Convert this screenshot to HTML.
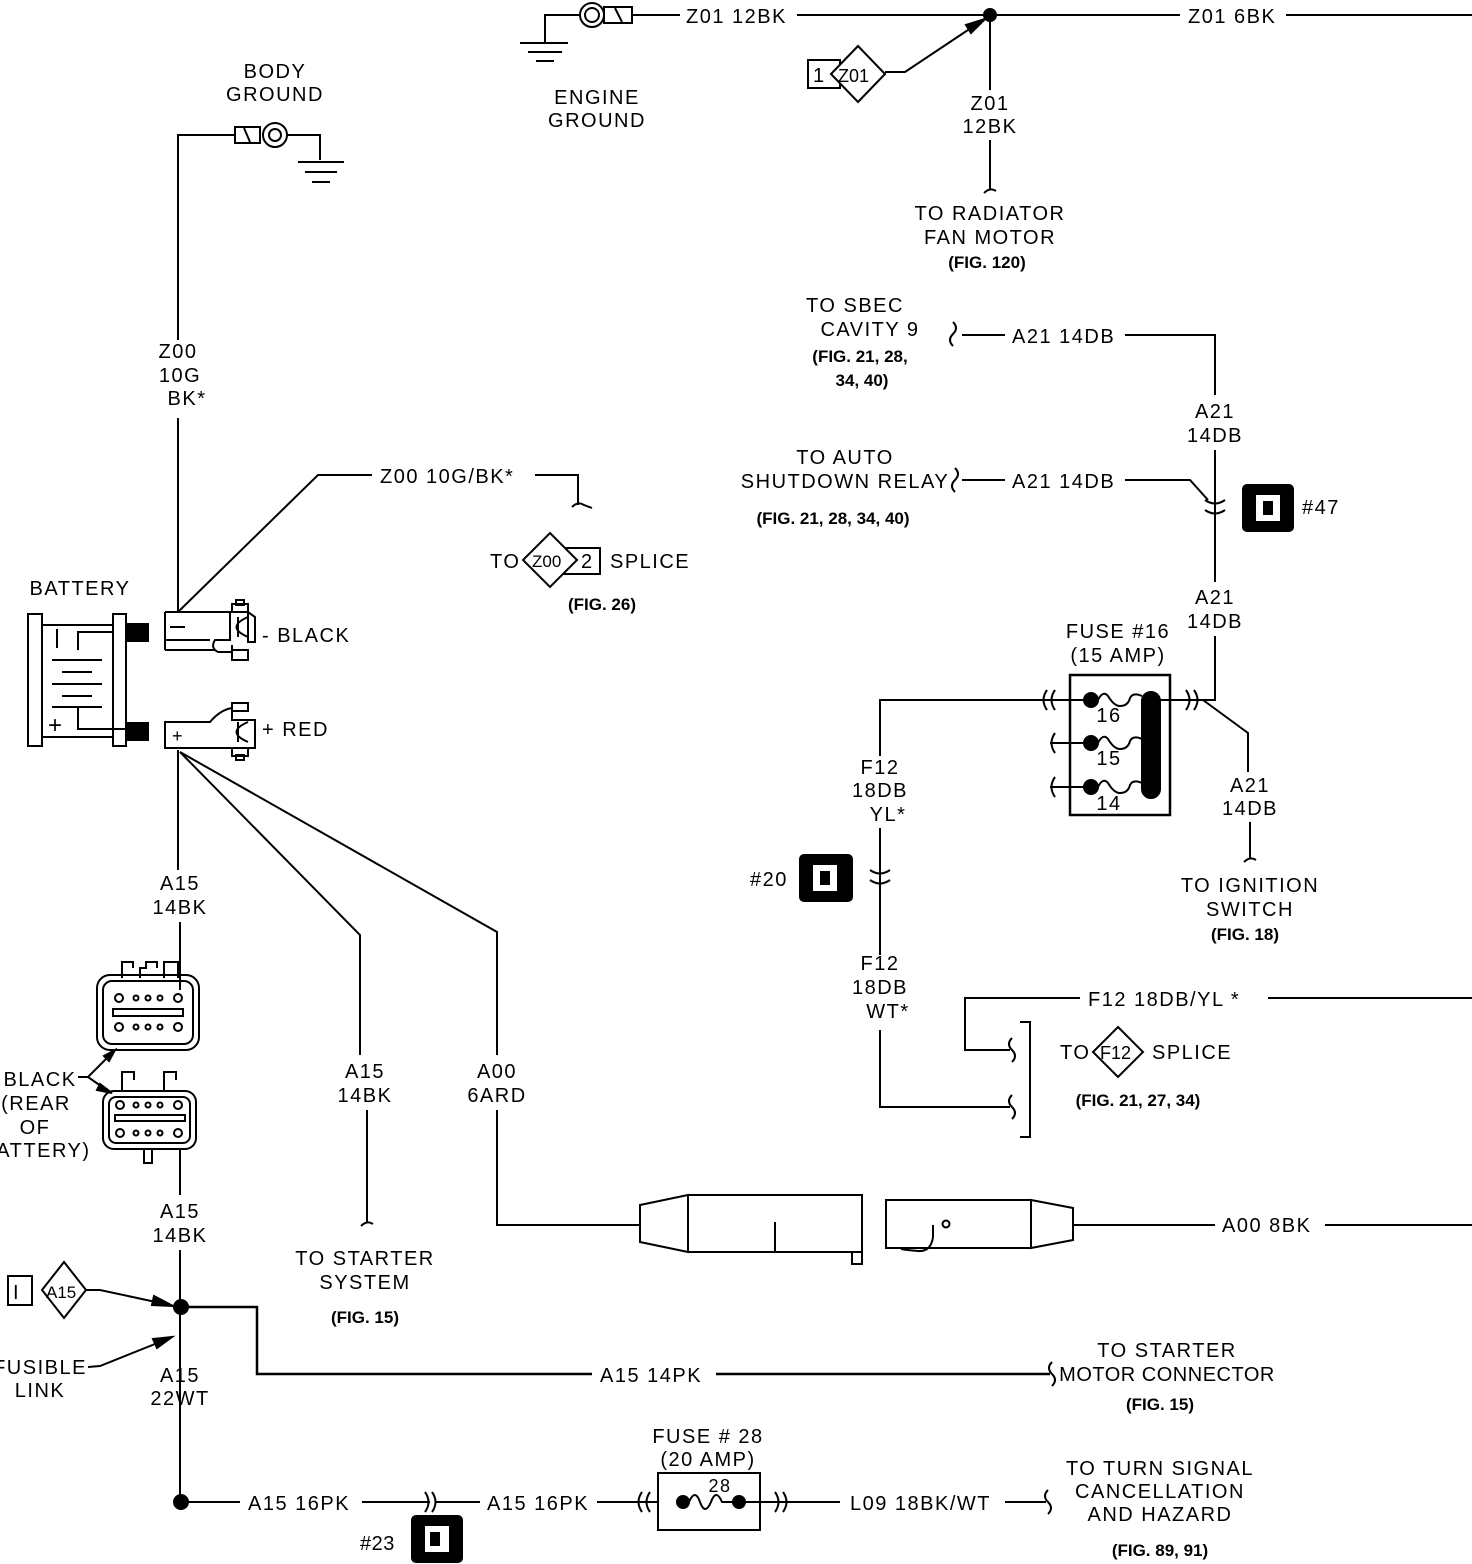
<!DOCTYPE html>
<html><head><meta charset="utf-8"><style>
html,body{margin:0;padding:0;background:#fff}
svg{display:block}
text{font-family:"Liberation Sans",sans-serif;font-size:20px;letter-spacing:1.5px;fill:#000}
.c{text-anchor:middle}
.b{font-weight:bold;font-size:17px;letter-spacing:0}
</style></head><body>
<svg width="1472" height="1564" viewBox="0 0 1472 1564" xmlns="http://www.w3.org/2000/svg" fill="none" stroke="#000" stroke-width="2">
<!-- ENGINE GROUND -->
<polyline points="580,15 545,15 545,42"/>
<line x1="520" y1="43" x2="568" y2="43"/><line x1="528" y1="52" x2="562" y2="52"/><line x1="536" y1="61" x2="554" y2="61"/>
<circle cx="592" cy="15" r="12"/><circle cx="592" cy="15" r="7"/>
<rect x="604" y="7" width="28" height="16"/><line x1="615" y1="8" x2="622" y2="22"/>
<line x1="632" y1="15" x2="680" y2="15"/>
<g stroke="none"><text x="686" y="23">Z01 12BK</text><text class="c" x="597" y="104">ENGINE</text><text class="c" x="597" y="127">GROUND</text></g>
<line x1="797" y1="15" x2="1180" y2="15"/>
<circle cx="990" cy="15" r="6" fill="#000"/>
<text x="1188" y="23" stroke="none">Z01 6BK</text>
<line x1="1286" y1="15" x2="1472" y2="15"/>
<rect x="808" y="60" width="32" height="28"/>
<polygon points="858,46 885,74 858,102 831,74" fill="#fff"/>
<g stroke="none"><text x="813" y="82">1</text><text x="838" y="82" style="letter-spacing:0;font-size:18px">Z01</text></g>
<polyline points="885,72 905,72 980,22"/>
<polygon points="985,19 966,25 971,33" fill="#000"/>
<line x1="990" y1="15" x2="990" y2="90"/>
<g stroke="none"><text class="c" x="990" y="110">Z01</text><text class="c" x="990" y="133">12BK</text></g>
<line x1="990" y1="140" x2="990" y2="190"/>
<path d="M984,193 q6,-6 12,-2"/>
<g stroke="none"><text class="c" x="990" y="220">TO RADIATOR</text><text class="c" x="990" y="244">FAN MOTOR</text><text class="c b" x="987" y="268">(FIG. 120)</text></g>

<!-- BODY GROUND -->
<g stroke="none"><text class="c" x="275" y="78">BODY</text><text class="c" x="275" y="101">GROUND</text></g>
<polyline points="178,340 178,135 235,135"/>
<rect x="235" y="127" width="25" height="16"/><line x1="244" y1="128" x2="250" y2="142"/>
<circle cx="275" cy="135" r="12"/><circle cx="275" cy="135" r="6"/>
<polyline points="287,135 320,135 320,160"/>
<line x1="298" y1="162" x2="344" y2="162"/><line x1="305" y1="172" x2="337" y2="172"/><line x1="312" y1="182" x2="330" y2="182"/>
<g stroke="none"><text class="c" x="178" y="358">Z00</text><text class="c" x="180" y="382">10G</text><text class="c" x="187" y="405">BK*</text></g>
<line x1="178" y1="418" x2="178" y2="612"/>
<polyline points="178,612 318,475 372,475"/>
<text x="380" y="483" stroke="none">Z00 10G/BK*</text>
<polyline points="535,475 578,475 578,505"/><path d="M572,507 q6,-6 12,-2 l8,3"/>
<g stroke="none"><text x="490" y="568">TO</text></g>
<rect x="560" y="548" width="40" height="26"/>
<polygon points="550,533 577,560 550,587 523,560" fill="#fff"/>
<g stroke="none"><text x="532" y="567" style="letter-spacing:0;font-size:17px">Z00</text><text x="581" y="568">2</text><text x="610" y="568">SPLICE</text><text class="c b" x="602" y="610">(FIG. 26)</text></g>

<!-- BATTERY -->
<text class="c" x="80" y="595" stroke="none">BATTERY</text>
<rect x="28" y="614" width="14" height="132"/><rect x="113" y="614" width="13" height="132"/>
<line x1="42" y1="625" x2="113" y2="625"/><line x1="42" y1="737" x2="113" y2="737"/>
<rect x="126" y="624" width="22" height="17" fill="#000"/><rect x="126" y="723" width="22" height="17" fill="#000"/>
<line x1="57" y1="629" x2="57" y2="648"/>
<polyline points="113,632 78,632 78,650"/>
<line x1="52" y1="660" x2="102" y2="660"/><line x1="62" y1="672" x2="92" y2="672"/>
<line x1="52" y1="684" x2="102" y2="684"/><line x1="62" y1="696" x2="92" y2="696"/><line x1="52" y1="707" x2="102" y2="707"/>
<polyline points="78,707 78,729 126,729"/>
<g stroke="none"><text x="48" y="733" style="font-size:24px">+</text></g>
<!-- neg terminal -->
<path d="M165,612 H230 V640 H215 Q210,648 218,652 H232 V660 H248 V650 H232 V645 M165,612 V640 H210"/>
<line x1="165" y1="640" x2="165" y2="650"/><line x1="165" y1="650" x2="215" y2="650"/>
<rect x="232" y="604" width="16" height="8"/><rect x="236" y="600" width="8" height="5"/>
<path d="M248,617 Q225,627 248,637 M238,617 V637 M248,612 V642 H255 V617 Z"/>
<line x1="170" y1="627" x2="185" y2="627"/>
<text x="262" y="642" stroke="none">- BLACK</text>
<!-- pos terminal -->
<path d="M165,722 H210 Q220,710 232,708 V720 H255 V748 H165 Z"/>
<rect x="232" y="703" width="16" height="8"/>
<rect x="232" y="748" width="16" height="8"/><rect x="236" y="755" width="8" height="5"/>
<path d="M248,722 Q225,732 248,742 M238,722 V742"/>
<text x="172" y="742" stroke="none" style="font-size:18px">+</text>
<text x="262" y="736" stroke="none">+ RED</text>

<!-- + branches -->
<line x1="178" y1="750" x2="178" y2="870"/>
<polyline points="180,752 360,935 360,1055"/>
<polyline points="180,752 497,932 497,1055"/>
<g stroke="none"><text class="c" x="365" y="1078">A15</text><text class="c" x="365" y="1102">14BK</text><text class="c" x="497" y="1078">A00</text><text class="c" x="497" y="1102">6ARD</text>
<text class="c" x="365" y="1265">TO STARTER</text><text class="c" x="365" y="1289">SYSTEM</text><text class="c b" x="365" y="1323">(FIG. 15)</text></g>
<line x1="367" y1="1110" x2="367" y2="1222"/><path d="M361,1226 q6,-6 12,-2"/>
<polyline points="497,1110 497,1225 640,1225"/>
<!-- in-line connector -->
<polygon points="640,1205 688,1195 688,1252 640,1242"/>
<rect x="688" y="1195" width="174" height="57"/>
<line x1="775" y1="1222" x2="775" y2="1252"/>
<rect x="852" y="1252" width="10" height="12"/>
<rect x="886" y="1200" width="145" height="48"/>
<polygon points="1031,1200 1073,1208 1073,1240 1031,1248"/>
<circle cx="946" cy="1224" r="3.5"/>
<path d="M933,1225 V1237 Q931,1252 918,1251 Q906,1250 901,1249"/>
<line x1="1073" y1="1225" x2="1215" y2="1225"/>
<text x="1222" y="1232" stroke="none">A00 8BK</text>
<line x1="1325" y1="1225" x2="1472" y2="1225"/>

<!-- A15 14BK left -->
<g stroke="none"><text class="c" x="180" y="890">A15</text><text class="c" x="180" y="914">14BK</text></g>
<line x1="180" y1="922" x2="180" y2="990"/>
<path d="M122,978 V962 H133 V968 M140,978 V968 H146 V962 H157 V968 M164,978 V962 H178 V978" />
<rect x="97" y="975" width="102" height="75" rx="13"/>
<rect x="103" y="981" width="90" height="63" rx="9"/>
<rect x="113" y="1009" width="70" height="7"/>
<g fill="#fff"><circle cx="119" cy="998" r="4"/><circle cx="136" cy="998" r="2.5"/><circle cx="148" cy="998" r="2.5"/><circle cx="160" cy="998" r="2.5"/><circle cx="178" cy="998" r="4"/>
<circle cx="119" cy="1027" r="4"/><circle cx="136" cy="1027" r="2.5"/><circle cx="148" cy="1027" r="2.5"/><circle cx="160" cy="1027" r="2.5"/><circle cx="178" cy="1027" r="4"/></g>
<path d="M122,1092 V1072 H134 V1080 M164,1092 V1072 H176 V1080"/>
<rect x="103" y="1091" width="93" height="58" rx="11"/>
<rect x="109" y="1097" width="81" height="46" rx="7"/>
<rect x="115" y="1115" width="70" height="6"/>
<rect x="144" y="1149" width="8" height="14"/>
<g fill="#fff"><circle cx="120" cy="1105" r="4"/><circle cx="136" cy="1105" r="2.5"/><circle cx="148" cy="1105" r="2.5"/><circle cx="160" cy="1105" r="2.5"/><circle cx="178" cy="1105" r="4"/>
<circle cx="120" cy="1133" r="4"/><circle cx="136" cy="1133" r="2.5"/><circle cx="148" cy="1133" r="2.5"/><circle cx="160" cy="1133" r="2.5"/><circle cx="178" cy="1133" r="4"/></g>
<polyline points="78,1077 88,1077 113,1052"/><polygon points="115,1050 104,1056 109,1061" fill="#000"/>
<line x1="88" y1="1077" x2="108" y2="1091"/><polygon points="112,1093 100,1084 97,1090" fill="#000"/>
<g stroke="none"><text class="c" x="40" y="1086">BLACK</text><text class="c" x="36" y="1110">(REAR</text><text class="c" x="35" y="1134">OF</text><text class="c" x="36" y="1157">BATTERY)</text></g>
<line x1="180" y1="1148" x2="180" y2="1195"/>
<g stroke="none"><text class="c" x="180" y="1218">A15</text><text class="c" x="180" y="1242">14BK</text></g>
<line x1="180" y1="1250" x2="180" y2="1500"/>
<circle cx="181" cy="1307" r="7" fill="#000"/><circle cx="181" cy="1502" r="7" fill="#000"/>
<rect x="8" y="1276" width="24" height="29"/>
<polygon points="64,1262 86,1290 64,1318 42,1290" fill="#fff"/>
<g stroke="none"><text x="13" y="1299">I</text><text x="46" y="1298" style="font-size:17px;letter-spacing:0">A15</text></g>
<polyline points="86,1290 100,1290 165,1304"/><polygon points="173,1306 154,1296 152,1305" fill="#000"/>
<polyline points="88,1367 100,1366 165,1340"/><polygon points="172,1337 153,1339 157,1348" fill="#000"/>
<g stroke="none"><text class="c" x="40" y="1374">FUSIBLE</text><text class="c" x="40" y="1397">LINK</text><text class="c" x="180" y="1382">A15</text><text class="c" x="180" y="1405">22WT</text></g>
<polyline points="181,1307 257,1307 257,1374 592,1374" stroke-width="2.5"/>
<text x="600" y="1382" stroke="none">A15 14PK</text>
<line x1="716" y1="1374" x2="1050" y2="1374" stroke-width="2.5"/>
<path d="M1052,1362 q-6,6 0,12 q6,6 0,12"/>
<g stroke="none"><text class="c" x="1167" y="1357">TO STARTER</text><text class="c" x="1167" y="1381" style="letter-spacing:0.5px">MOTOR CONNECTOR</text><text class="c b" x="1160" y="1410">(FIG. 15)</text></g>

<!-- bottom row -->
<line x1="187" y1="1502" x2="240" y2="1502"/>
<text x="248" y="1510" stroke="none">A15 16PK</text>
<line x1="362" y1="1502" x2="430" y2="1502"/>
<path d="M425,1492 Q432,1502 425,1512 M432,1492 Q439,1502 432,1512"/>
<line x1="436" y1="1502" x2="480" y2="1502"/>
<text x="487" y="1510" stroke="none">A15 16PK</text>
<line x1="597" y1="1502" x2="658" y2="1502"/>
<path d="M642,1492 Q635,1502 642,1512 M650,1492 Q643,1502 650,1512"/>
<rect x="658" y="1473" width="102" height="57"/>
<circle cx="683" cy="1502" r="6" fill="#000"/><circle cx="739" cy="1502" r="6" fill="#000"/>
<path d="M689,1502 q6,-14 11,0 q5,14 11,0 q5,-14 11,0 l11,0"/>
<g stroke="none"><text class="c" x="720" y="1492" style="font-size:18px">28</text><text class="c" x="708" y="1443">FUSE # 28</text><text class="c" x="708" y="1466">(20 AMP)</text></g>
<line x1="745" y1="1502" x2="840" y2="1502"/>
<path d="M775,1492 Q782,1502 775,1512 M783,1492 Q790,1502 783,1512"/>
<text x="850" y="1510" stroke="none">L09 18BK/WT</text>
<line x1="1005" y1="1502" x2="1046" y2="1502"/>
<path d="M1048,1490 q-6,6 0,12 q6,6 0,12"/>
<g stroke="none"><text class="c" x="1160" y="1475">TO TURN SIGNAL</text><text class="c" x="1160" y="1498">CANCELLATION</text><text class="c" x="1160" y="1521">AND HAZARD</text><text class="c b" x="1160" y="1556">(FIG. 89, 91)</text></g>
<rect x="412" y="1516" width="50" height="46" rx="4" fill="#000"/>
<rect x="425" y="1526" width="24" height="26" fill="#fff" stroke="none"/><rect x="430" y="1532" width="10" height="14" fill="#000" stroke="none"/>
<text x="360" y="1550" stroke="none" style="letter-spacing:0.5px">#23</text>

<!-- Right side A21 -->
<g stroke="none"><text class="c" x="855" y="312">TO SBEC</text><text class="c" x="870" y="336">CAVITY 9</text><text class="c b" x="860" y="362">(FIG. 21, 28,</text><text class="c b" x="862" y="386">34, 40)</text></g>
<path d="M953,322 q6,6 0,12 q-6,6 0,12"/>
<line x1="962" y1="335" x2="1005" y2="335"/>
<text x="1012" y="343" stroke="none">A21 14DB</text>
<polyline points="1125,335 1215,335 1215,395"/>
<g stroke="none"><text class="c" x="1215" y="418">A21</text><text class="c" x="1215" y="442">14DB</text></g>
<line x1="1215" y1="450" x2="1215" y2="582"/>
<path d="M1205,500 Q1215,507 1225,500 M1205,510 Q1215,517 1225,510"/>
<g stroke="none"><text class="c" x="845" y="464">TO AUTO</text><text class="c" x="845" y="488">SHUTDOWN RELAY</text><text class="c b" x="833" y="524">(FIG. 21, 28, 34, 40)</text></g>
<path d="M955,468 q6,6 0,12 q-6,6 0,12"/>
<line x1="962" y1="480" x2="1005" y2="480"/>
<text x="1012" y="488" stroke="none">A21 14DB</text>
<polyline points="1125,480 1190,480 1208,500"/>
<rect x="1243" y="485" width="50" height="46" rx="4" fill="#000"/>
<rect x="1256" y="495" width="24" height="26" fill="#fff" stroke="none"/><rect x="1263" y="501" width="10" height="14" fill="#000" stroke="none"/>
<text x="1302" y="514" stroke="none">#47</text>
<g stroke="none"><text class="c" x="1215" y="604">A21</text><text class="c" x="1215" y="628">14DB</text></g>
<polyline points="1215,636 1215,700 1150,700"/>
<path d="M1186,690 Q1193,700 1186,710 M1194,690 Q1201,700 1194,710"/>
<polyline points="1203,700 1248,733 1248,772"/>
<g stroke="none"><text class="c" x="1250" y="792">A21</text><text class="c" x="1250" y="815">14DB</text></g>
<line x1="1250" y1="822" x2="1250" y2="858"/><path d="M1244,862 q6,-6 12,-2"/>
<g stroke="none"><text class="c" x="1250" y="892">TO IGNITION</text><text class="c" x="1250" y="916">SWITCH</text><text class="c b" x="1245" y="940">(FIG. 18)</text></g>
<!-- fuse 16 -->
<g stroke="none"><text class="c" x="1118" y="638">FUSE #16</text><text class="c" x="1118" y="662">(15 AMP)</text></g>
<rect x="1070" y="675" width="100" height="140" stroke-width="2.5"/>
<rect x="1142" y="692" width="18" height="106" rx="9" fill="#000"/>
<circle cx="1091" cy="700" r="7" fill="#000"/><circle cx="1091" cy="743" r="7" fill="#000"/><circle cx="1091" cy="787" r="7" fill="#000"/>
<path d="M1098,700 q5,-10 10,-4 q6,10 12,10 q8,0 10,-8 q3,-6 12,-2"/>
<path d="M1098,743 q5,-10 10,-4 q6,10 12,10 q8,0 10,-8 q3,-6 12,-2"/>
<path d="M1098,787 q5,-10 10,-4 q6,10 12,10 q8,0 10,-8 q3,-6 12,-2"/>
<g stroke="none" style="font-size:18px"><text class="c" x="1109" y="722">16</text><text class="c" x="1109" y="765">15</text><text class="c" x="1109" y="810">14</text></g>
<line x1="1160" y1="700" x2="1180" y2="700"/>
<polyline points="1084,700 880,700 880,756"/>
<path d="M1047,690 Q1040,700 1047,710 M1055,690 Q1048,700 1055,710"/>
<line x1="1050" y1="743" x2="1084" y2="743"/><path d="M1055,733 Q1048,743 1055,753"/>
<line x1="1050" y1="787" x2="1084" y2="787"/><path d="M1055,777 Q1048,787 1055,797"/>
<g stroke="none"><text class="c" x="880" y="774">F12</text><text class="c" x="880" y="797">18DB</text><text class="c" x="888" y="821">YL*</text></g>
<line x1="880" y1="828" x2="880" y2="955"/>
<path d="M870,870 Q880,877 890,870 M870,880 Q880,887 890,880"/>
<rect x="800" y="855" width="52" height="46" rx="4" fill="#000"/>
<rect x="813" y="865" width="24" height="26" fill="#fff" stroke="none"/><rect x="820" y="871" width="10" height="14" fill="#000" stroke="none"/>
<text x="750" y="886" stroke="none">#20</text>
<g stroke="none"><text class="c" x="880" y="970">F12</text><text class="c" x="880" y="994">18DB</text><text class="c" x="888" y="1018">WT*</text></g>
<polyline points="880,1030 880,1107 1010,1107"/>
<path d="M1012,1095 q-6,6 0,12 q6,6 0,12"/>
<polyline points="1080,998 965,998 965,1050 1010,1050"/>
<path d="M1012,1038 q-6,6 0,12 q6,6 0,12"/>
<text x="1088" y="1006" stroke="none">F12 18DB/YL *</text>
<line x1="1268" y1="998" x2="1472" y2="998"/>
<polyline points="1020,1022 1030,1022 1030,1137 1020,1137"/>
<text x="1060" y="1059" stroke="none">TO</text>
<polygon points="1118,1027 1143,1052 1118,1077 1093,1052"/>
<g stroke="none"><text x="1100" y="1059" style="letter-spacing:0;font-size:18px">F12</text><text x="1152" y="1059">SPLICE</text><text class="c b" x="1138" y="1106">(FIG. 21, 27, 34)</text></g>
</svg>
</body></html>
